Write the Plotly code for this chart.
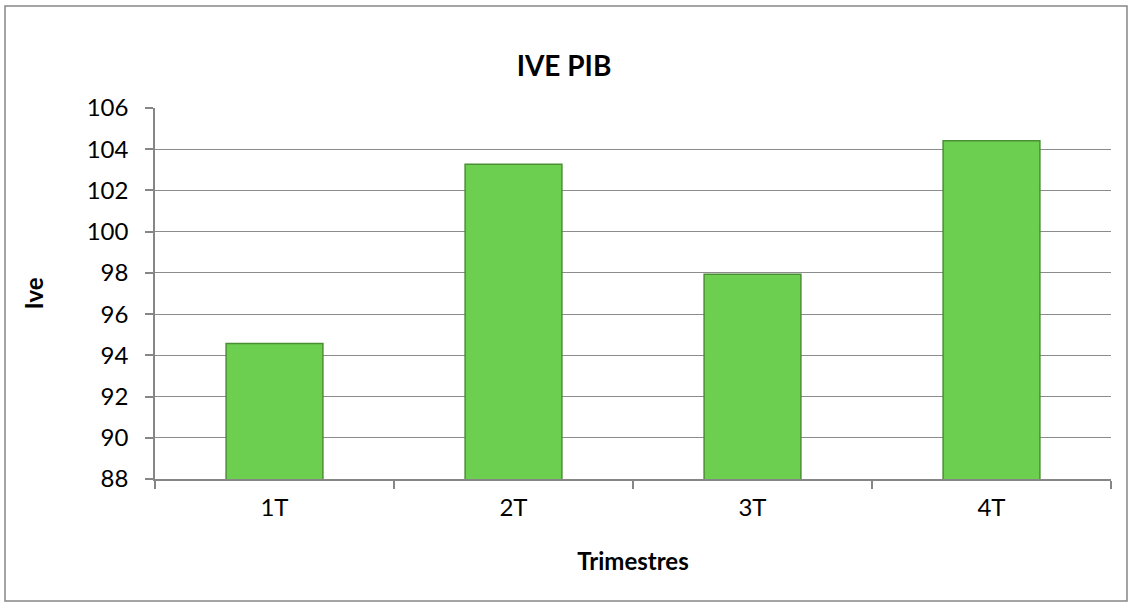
import plotly.graph_objects as go

categories = ["1T", "2T", "3T", "4T"]
values = [94.58, 103.27, 97.94, 104.41]
y_ticks = [88, 90, 92, 94, 96, 98, 100, 102, 104, 106]

W, H = 1132, 606
L, R, T, B = 155, 21, 108, 127
pw, ph = W - L - R, H - T - B

fig = go.Figure()
fig.add_trace(go.Bar(
    x=categories, y=values,
    marker=dict(color="#6ccf4f", line=dict(color="#4a8f33", width=1.5)),
    width=0.405,
))

font = "Lato, 'Open Sans', sans-serif"
fig.update_layout(
    width=W, height=H,
    margin=dict(l=L, r=R, t=T, b=B),
    paper_bgcolor="white", plot_bgcolor="white",
    showlegend=False,
    font=dict(family=font, size=24, color="black"),
    title=dict(text="<b>IVE PIB</b>", x=564 / W, xanchor="center",
               y=1 - 66 / H, yanchor="middle", font=dict(size=28, family=font)),
    xaxis=dict(
        title=dict(text="<b>Trimestres</b>", font=dict(size=24), standoff=34),
        showline=True, linecolor="#868686", linewidth=1.5,
        ticks="outside", tickson="boundaries", ticklen=8, tickcolor="#868686", tickwidth=1.5,
        showgrid=False, ticklabelstandoff=6,
    ),
    yaxis=dict(
        title=dict(text="<b>Ive</b>", font=dict(size=24), standoff=36),
        range=[88, 106], tickvals=y_ticks,
        showline=True, linecolor="#868686", linewidth=1.5,
        ticks="outside", ticklen=8, tickcolor="#868686", tickwidth=1.5,
        showgrid=True, gridcolor="#8c8c8c", gridwidth=1,
        zeroline=False, ticklabelstandoff=12,
    ),
    shapes=[dict(
        type="rect", xref="paper", yref="paper",
        x0=(5 - L) / pw, x1=(1127 - L) / pw,
        y0=(H - B - 601) / ph, y1=(H - B - 6) / ph,
        line=dict(color="#868686", width=1.5), fillcolor="rgba(0,0,0,0)", layer="below",
    )],
)

fig.write_html("out.html", config={"displayModeBar": False},
               post_script="document.body.style.margin='0';")
